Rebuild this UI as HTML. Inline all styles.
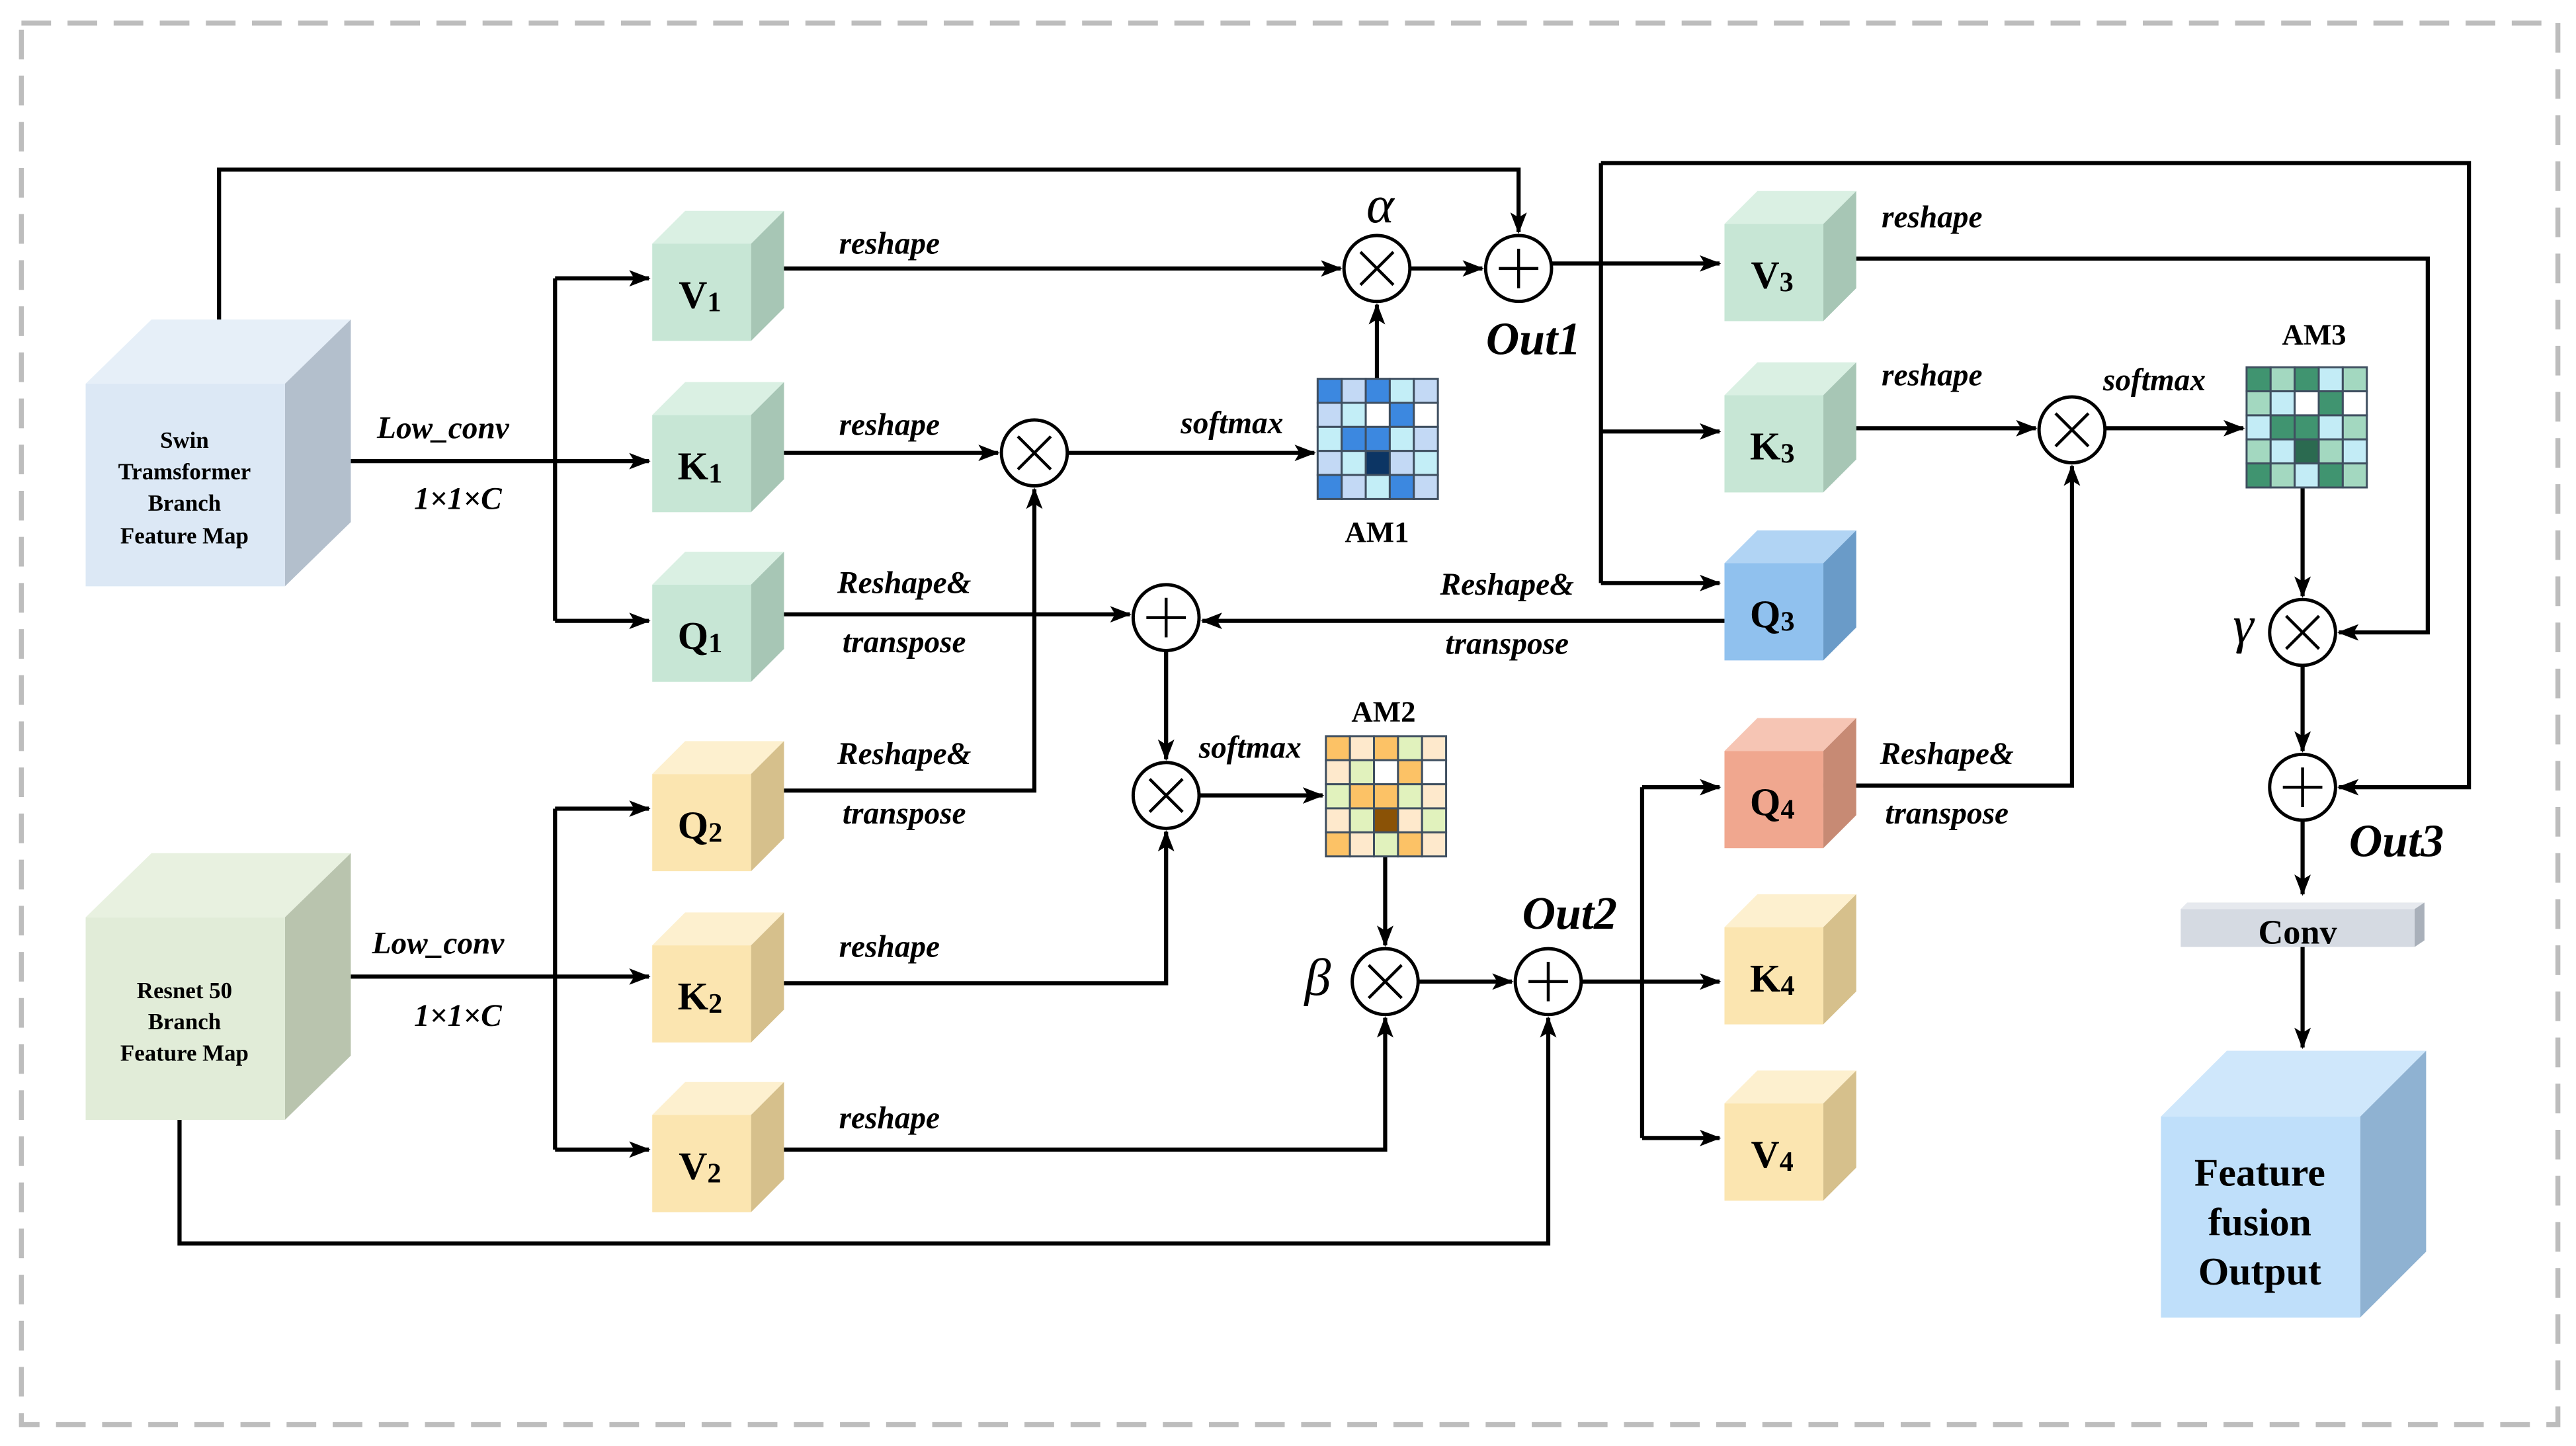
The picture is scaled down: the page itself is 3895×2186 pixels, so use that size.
<!DOCTYPE html>
<html><head><meta charset="utf-8"><style>
html,body{margin:0;padding:0;background:#fff}
svg{display:block}
svg text{font-family:"Liberation Serif","Times New Roman","DejaVu Serif",serif;font-weight:bold}
.it{font-style:italic;font-size:19px}
.lb{font-size:24px}
</style></head><body>
<svg width="3895" height="2186" viewBox="0 0 1564 878" preserveAspectRatio="none" xmlns="http://www.w3.org/2000/svg" font-family="Liberation Serif, Times New Roman, serif">
<defs><marker id="a" markerWidth="13" markerHeight="10" refX="12" refY="5" orient="auto" markerUnits="userSpaceOnUse"><path d="M0,0 L13,5 L0,10 L3,5 z" fill="#000"/></marker></defs>
<rect x="13" y="14" width="1540" height="851" fill="none" stroke="#bdbdbd" stroke-width="3" stroke-dasharray="18,10"/>

<g fill="none" stroke="#000" stroke-width="2.5">
<polyline points="133,194 133,103 922,103 922,141" marker-end="url(#a)"/>
<line x1="213" y1="280" x2="337" y2="280"/>
<line x1="337" y1="169" x2="337" y2="377"/>
<line x1="337" y1="169" x2="394" y2="169" marker-end="url(#a)"/>
<line x1="337" y1="280" x2="394" y2="280" marker-end="url(#a)"/>
<line x1="337" y1="377" x2="394" y2="377" marker-end="url(#a)"/>
<line x1="475" y1="163" x2="814" y2="163" marker-end="url(#a)"/>
<line x1="856" y1="163" x2="900" y2="163" marker-end="url(#a)"/>
<line x1="942" y1="160" x2="1044" y2="160" marker-end="url(#a)"/>
<polyline points="972,99 1499,99 1499,478 1420,478" marker-end="url(#a)"/>
<line x1="972" y1="99" x2="972" y2="354"/>
<line x1="972" y1="262" x2="1044" y2="262" marker-end="url(#a)"/>
<line x1="972" y1="354" x2="1044" y2="354" marker-end="url(#a)"/>
<line x1="475" y1="275" x2="606" y2="275" marker-end="url(#a)"/>
<line x1="648" y1="275" x2="798" y2="275" marker-end="url(#a)"/>
<line x1="836" y1="230" x2="836" y2="185" marker-end="url(#a)"/>
<line x1="475" y1="373" x2="686" y2="373" marker-end="url(#a)"/>
<line x1="1047" y1="377" x2="730" y2="377" marker-end="url(#a)"/>
<line x1="708" y1="395" x2="708" y2="461" marker-end="url(#a)"/>
<polyline points="475,480 628,480 628,297" marker-end="url(#a)"/>
<line x1="728" y1="483" x2="803" y2="483" marker-end="url(#a)"/>
<line x1="841" y1="519" x2="841" y2="574" marker-end="url(#a)"/>
<line x1="213" y1="593" x2="337" y2="593"/>
<line x1="337" y1="491" x2="337" y2="698"/>
<line x1="337" y1="491" x2="394" y2="491" marker-end="url(#a)"/>
<line x1="337" y1="593" x2="394" y2="593" marker-end="url(#a)"/>
<line x1="337" y1="698" x2="394" y2="698" marker-end="url(#a)"/>
<polyline points="475,597 708,597 708,505" marker-end="url(#a)"/>
<polyline points="475,698 841,698 841,618" marker-end="url(#a)"/>
<line x1="861" y1="596" x2="918" y2="596" marker-end="url(#a)"/>
<polyline points="109,680 109,755 940,755 940,618" marker-end="url(#a)"/>
<line x1="960" y1="596" x2="1044" y2="596" marker-end="url(#a)"/>
<line x1="997" y1="478" x2="997" y2="691"/>
<line x1="997" y1="478" x2="1044" y2="478" marker-end="url(#a)"/>
<line x1="997" y1="691" x2="1044" y2="691" marker-end="url(#a)"/>
<polyline points="1107,477 1258,477 1258,283" marker-end="url(#a)"/>
<line x1="1127" y1="260" x2="1236" y2="260" marker-end="url(#a)"/>
<line x1="1278" y1="260" x2="1362" y2="260" marker-end="url(#a)"/>
<line x1="1398" y1="296" x2="1398" y2="362" marker-end="url(#a)"/>
<polyline points="1127,157 1474,157 1474,384 1420,384" marker-end="url(#a)"/>
<line x1="1398" y1="404" x2="1398" y2="456" marker-end="url(#a)"/>
<line x1="1398" y1="498" x2="1398" y2="543" marker-end="url(#a)"/>
<line x1="1398" y1="575" x2="1398" y2="636" marker-end="url(#a)"/>
</g>

<g fill="#fff" stroke="#000" stroke-width="2">
<circle cx="836" cy="163" r="20"/><circle cx="922" cy="163" r="20"/>
<circle cx="628" cy="275" r="20"/><circle cx="708" cy="375" r="20"/>
<circle cx="708" cy="483" r="20"/><circle cx="841" cy="596" r="20"/>
<circle cx="940" cy="596" r="20"/><circle cx="1258" cy="261" r="20"/>
<circle cx="1398" cy="384" r="20"/><circle cx="1398" cy="478" r="20"/>
</g>
<g stroke="#000" stroke-width="1.8">
<path d="M826,153 L846,173 M846,153 L826,173"/>
<path d="M618,265 L638,285 M638,265 L618,285"/>
<path d="M698,473 L718,493 M718,473 L698,493"/>
<path d="M831,586 L851,606 M851,586 L831,606"/>
<path d="M1248,251 L1268,271 M1268,251 L1248,271"/>
<path d="M1388,374 L1408,394 M1408,374 L1388,394"/>
<path d="M910,163 L934,163 M922,151 L922,175"/>
<path d="M696,375 L720,375 M708,363 L708,387"/>
<path d="M928,596 L952,596 M940,584 L940,608"/>
<path d="M1386,478 L1410,478 M1398,466 L1398,490"/>
</g>

<polygon points="52,233 92,194 213,194 173,233" fill="#e6eff8"/>
<polygon points="173,233 213,194 213,317 173,356" fill="#b3bfcc"/>
<rect x="52" y="233" width="121" height="123" fill="#dce8f5"/>
<g font-size="14" text-anchor="middle"><text x="112" y="272">Swin</text><text x="112" y="291">Tramsformer</text><text x="112" y="310">Branch</text><text x="112" y="330">Feature Map</text></g>
<polygon points="52,557 92,518 213,518 173,557" fill="#e8f1e0"/>
<polygon points="173,557 213,518 213,641 173,680" fill="#b9c4ae"/>
<rect x="52" y="557" width="121" height="123" fill="#e1ecd8"/>
<g font-size="14" text-anchor="middle"><text x="112" y="606">Resnet 50</text><text x="112" y="625">Branch</text><text x="112" y="644">Feature Map</text></g>
<polygon points="1312,678 1352,638 1473,638 1433,678" fill="#cfe7fb"/>
<polygon points="1433,678 1473,638 1473,760 1433,800" fill="#8fb2d2"/>
<rect x="1312" y="678" width="121" height="122" fill="#bfdffa"/>
<g font-size="24" text-anchor="middle"><text x="1372" y="720">Feature</text><text x="1372" y="750">fusion</text><text x="1372" y="780">Output</text></g>
<polygon points="1324,552 1328,548 1472,548 1466,552" fill="#e6e9ee"/>
<polygon points="1466,552 1472,548 1472,571 1466,575" fill="#a9b0ba"/>
<rect x="1324" y="552" width="142" height="23" fill="#d5dae2"/>
<text x="1395" y="573" font-size="21" text-anchor="middle">Conv</text>

<g id="cubes"></g>
<g id="grids"></g>

<g class="it">
<text x="540" y="154" text-anchor="middle">reshape</text>
<text x="540" y="264" text-anchor="middle">reshape</text>
<text x="549" y="360" text-anchor="middle">Reshape&amp;</text>
<text x="549" y="396" text-anchor="middle">transpose</text>
<text x="549" y="464" text-anchor="middle">Reshape&amp;</text>
<text x="549" y="500" text-anchor="middle">transpose</text>
<text x="540" y="581" text-anchor="middle">reshape</text>
<text x="540" y="685" text-anchor="middle">reshape</text>
<text x="269" y="266" text-anchor="middle">Low_conv</text>
<text x="278" y="309" text-anchor="middle">1×1×C</text>
<text x="266" y="579" text-anchor="middle">Low_conv</text>
<text x="278" y="623" text-anchor="middle">1×1×C</text>
<text x="748" y="263" text-anchor="middle">softmax</text>
<text x="759" y="460" text-anchor="middle">softmax</text>
<text x="915" y="361" text-anchor="middle">Reshape&amp;</text>
<text x="915" y="397" text-anchor="middle">transpose</text>
<text x="1173" y="138" text-anchor="middle">reshape</text>
<text x="1173" y="234" text-anchor="middle">reshape</text>
<text x="1308" y="237" text-anchor="middle">softmax</text>
<text x="1182" y="464" text-anchor="middle">Reshape&amp;</text>
<text x="1182" y="500" text-anchor="middle">transpose</text>
</g>
<g font-size="18" text-anchor="middle">
<text x="836" y="329">AM1</text><text x="840" y="438">AM2</text><text x="1405" y="209">AM3</text>
</g>
<g font-style="italic" font-size="28" text-anchor="middle">
<text x="931" y="215">Out1</text><text x="953" y="564">Out2</text><text x="1455" y="520">Out3</text>
</g>
<g font-style="italic" font-size="32" text-anchor="middle">
<text x="838" y="135" style="font-weight:normal">α</text>
<text x="800" y="604" style="font-weight:normal">β</text>
<text x="1362" y="390" style="font-weight:normal">γ</text>
</g>
<g class="lb" text-anchor="middle">
<text x="425" y="187">V<tspan font-size="17" dy="2">1</tspan></text>
<text x="425" y="291">K<tspan font-size="17" dy="2">1</tspan></text>
<text x="425" y="394">Q<tspan font-size="17" dy="2">1</tspan></text>
<text x="425" y="509">Q<tspan font-size="17" dy="2">2</tspan></text>
<text x="425" y="613">K<tspan font-size="17" dy="2">2</tspan></text>
<text x="425" y="716">V<tspan font-size="17" dy="2">2</tspan></text>
<text x="1076" y="175">V<tspan font-size="17" dy="2">3</tspan></text>
<text x="1076" y="279">K<tspan font-size="17" dy="2">3</tspan></text>
<text x="1076" y="381">Q<tspan font-size="17" dy="2">3</tspan></text>
<text x="1076" y="495">Q<tspan font-size="17" dy="2">4</tspan></text>
<text x="1076" y="602">K<tspan font-size="17" dy="2">4</tspan></text>
<text x="1076" y="709">V<tspan font-size="17" dy="2">4</tspan></text>
</g>
<script>
(function(){
var ns="http://www.w3.org/2000/svg";
function el(p,t,a){var e=document.createElementNS(ns,t);for(var k in a)e.setAttribute(k,a[k]);p.appendChild(e);return e;}
var C=document.getElementById("cubes");
var G={f:"#c7e6d5",t:"#daf0e3",r:"#a7c6b5"},Y={f:"#fbe5b0",t:"#fdf0cf",r:"#d6c08c"},B={f:"#90c1ee",t:"#b1d4f4",r:"#6a9bc8"},S={f:"#f0a78f",t:"#f6c5b4",r:"#c78a74"};
var L=[[396,148,G],[396,252,G],[396,355,G],[396,470,Y],[396,574,Y],[396,677,Y],[1047,136,G],[1047,240,G],[1047,342,B],[1047,456,S],[1047,563,Y],[1047,670,Y]];
L.forEach(function(c){var x=c[0],y=c[1],s=c[2],w=60,h=59,d=20;
el(C,"polygon",{points:x+","+y+" "+(x+d)+","+(y-d)+" "+(x+w+d)+","+(y-d)+" "+(x+w)+","+y,fill:s.t});
el(C,"polygon",{points:(x+w)+","+y+" "+(x+w+d)+","+(y-d)+" "+(x+w+d)+","+(y+h-d)+" "+(x+w)+","+(y+h),fill:s.r});
el(C,"rect",{x:x,y:y,width:w,height:h,fill:s.f});});
var P=["DLDCL","LCWDW","CDDCL","LCXLC","DLCDL"];
var g=document.getElementById("grids");
var M=[[800,230,{D:"#3c88e0",L:"#c3d9f5",C:"#c3eef7",W:"#fff",X:"#0c3564"}],[805,447,{D:"#fcc266",L:"#fee9cc",C:"#e1f2bd",W:"#fff",X:"#8a5206"}],[1364,223,{D:"#409470",L:"#a3d8c0",C:"#c3ecf6",W:"#fff",X:"#2b6a50"}]];
M.forEach(function(m){var s=14.6;for(var r=0;r<5;r++)for(var c=0;c<5;c++)el(g,"rect",{x:m[0]+c*s,y:m[1]+r*s,width:s,height:s,fill:m[2][P[r][c]],stroke:"#3f4f60","stroke-width":1.2});});
})();
</script>
</svg>
</body></html>
